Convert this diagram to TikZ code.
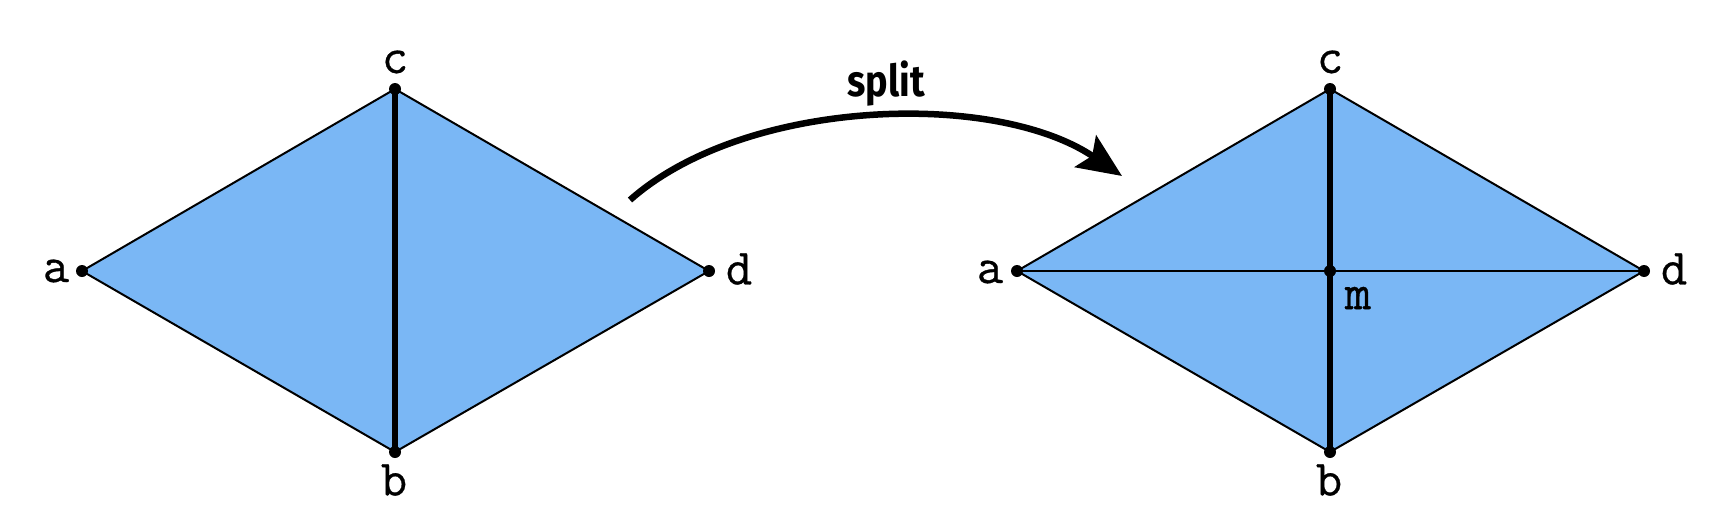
\documentclass[tikz,border=0pt]{standalone}
\usepackage{fontspec}
\newfontfamily\splitfont{Fira Sans}
\newfontfamily\labfont{Latin Modern Mono}[FakeBold=0.6]
\usetikzlibrary{arrows.meta}
\definecolor{facefill}{RGB}{122,183,245}
\tikzset{
  face/.style={fill=facefill, draw=none},
  thinedge/.style={draw=black, line width=2pt, line cap=round},
  thickedge/.style={draw=black, line width=6pt},
  vdot/.style={circle, fill=black, draw=none, inner sep=0pt, minimum size=12pt},
  vlabel/.style={inner sep=0pt, font=\labfont\fontsize{51}{58}\selectfont},
  splitarrow/.style={draw=black, line width=6.5pt, -{Stealth[length=44pt, width=38pt, inset=8pt]}},
  splitlabel/.style={inner sep=0pt, font=\splitfont\bfseries\fontsize{44}{50}\selectfont}
}
\begin{document}
\begin{tikzpicture}[x=1pt, y=-1pt]
\useasboundingbox (0,0) rectangle (1736,528);
% left mesh vertices
\coordinate (La) at (82,271);
\coordinate (Lc) at (395,89);
\coordinate (Ld) at (709,271);
\coordinate (Lb) at (395,452);
% right mesh vertices
\coordinate (Ra) at (1017,271);
\coordinate (Rc) at (1330,89);
\coordinate (Rd) at (1644,271);
\coordinate (Rb) at (1330,452);
\coordinate (Rm) at (1330,271);
% faces
\path[face] (La) -- (Lc) -- (Ld) -- (Lb) -- cycle;
\path[face] (Ra) -- (Rc) -- (Rd) -- (Rb) -- cycle;
% left edges
\draw[thinedge] (La) -- (Lc) -- (Ld) -- (Lb) -- cycle;
\draw[thickedge] (Lc) -- (Lb);
% right edges
\draw[thinedge] (Ra) -- (Rc) -- (Rd) -- (Rb) -- cycle;
\draw[thinedge] (Ra) -- (Rd);
\draw[thickedge] (Rc) -- (Rb);
% dots
\foreach \v in {La,Lb,Lc,Ld,Ra,Rb,Rc,Rd,Rm} \node[vdot] (dot\v) at (\v) {};
% labels
\node[vlabel] (labLa) at (56,271) {a};
\node[vlabel] (labLc) at (395,62) {c};
\node[vlabel] (labLb) at (394,480) {b};
\node[vlabel] (labLd) at (739,269) {d};
\node[vlabel] (labRa) at (990,272) {a};
\node[vlabel] (labRc) at (1330,62) {c};
\node[vlabel] (labRb) at (1329,480) {b};
\node[vlabel] (labRd) at (1674,269) {d};
\node[vlabel] (labRm) at (1358,298) {m};
% split arrow
\coordinate (arrStart) at (630,200);
\coordinate (arrEnd) at (1122,176);
\draw[splitarrow] (arrStart) .. controls (745,98) and (995,90) .. (arrEnd);
\node[splitlabel] (splitText) at (886,84) {\scalebox{0.86}[1]{split}};
\end{tikzpicture}
\end{document}
